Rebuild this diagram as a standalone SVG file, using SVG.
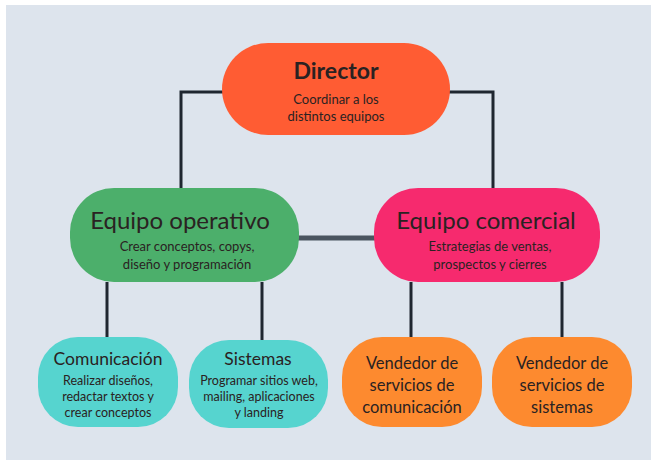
<svg xmlns="http://www.w3.org/2000/svg" width="658" height="466" viewBox="0 0 658 466">
<style>
text{font-family:"Lato","Open Sans","Liberation Sans",sans-serif;fill:#2a2222;text-anchor:middle}
.t{font-size:24px}
.s{font-size:13px}
.b{font-size:12.5px}
.m{font-size:16.5px}
.c{stroke:#1f2630;stroke-width:3;fill:none}
</style>
<rect width="658" height="466" fill="#ffffff"/>
<rect x="6" y="5" width="645" height="455" fill="#dde4ed"/>
<g id="connectors">
<path class="c" d="M224 92 H181 V190"/>
<path class="c" d="M448 92 H493 V190"/>
<path d="M298 238 H376" stroke="#4a5560" stroke-width="5" fill="none"/>
<path class="c" d="M107 282 V340"/>
<path class="c" d="M262 282 V342"/>
<path class="c" stroke="#3a4450" d="M411 282 V340"/>
<path class="c" stroke="#3a4450" d="M562 282 V340"/>
</g>
<g id="director">
<rect x="222" y="43" width="228" height="92" rx="46" fill="#ff5c33"/>
<text x="336" y="79" style="font-size:23px;font-weight:bold">Director</text>
<text class="s" x="336" y="104">Coordinar a los</text>
<text class="s" x="336" y="121">distintos equipos</text>
</g>
<g id="equipo-operativo">
<rect x="70" y="188" width="229" height="94" rx="44" fill="#4caf6b"/>
<text class="t" x="180" y="229">Equipo operativo</text>
<text class="s" x="187" y="251">Crear conceptos, copys,</text>
<text class="s" x="187" y="269">diseño y programación</text>
</g>
<g id="equipo-comercial">
<rect x="374" y="188" width="226" height="94" rx="44" fill="#f62a6e"/>
<text class="t" x="486" y="229">Equipo comercial</text>
<text class="s" x="490" y="251">Estrategias de ventas,</text>
<text class="s" x="490" y="269">prospectos y cierres</text>
</g>
<g id="comunicacion">
<rect x="38" y="337" width="140" height="90" rx="40" fill="#56d4cf"/>
<text x="108" y="365" style="font-size:17.5px">Comunicación</text>
<text class="b" x="108" y="385">Realizar diseños,</text>
<text class="b" x="108" y="401">redactar textos y</text>
<text class="b" x="108" y="417">crear conceptos</text>
</g>
<g id="sistemas">
<rect x="189" y="340" width="139" height="88" rx="40" fill="#56d4cf"/>
<text x="258" y="365" style="font-size:17.5px">Sistemas</text>
<text class="b" x="259" y="385">Programar sitios web,</text>
<text class="b" x="259" y="401">mailing, aplicaciones</text>
<text class="b" x="259" y="417">y landing</text>
</g>
<g id="vendedor-comunicacion">
<rect x="342" y="337" width="140" height="90" rx="40" fill="#fd8a2f"/>
<text class="m" x="412" y="369">Vendedor de</text>
<text class="m" x="412" y="391">servicios de</text>
<text class="m" x="412" y="413">comunicación</text>
</g>
<g id="vendedor-sistemas">
<rect x="492" y="337" width="140" height="90" rx="40" fill="#fd8a2f"/>
<text class="m" x="562" y="369">Vendedor de</text>
<text class="m" x="562" y="391">servicios de</text>
<text class="m" x="562" y="413">sistemas</text>
</g>
</svg>
